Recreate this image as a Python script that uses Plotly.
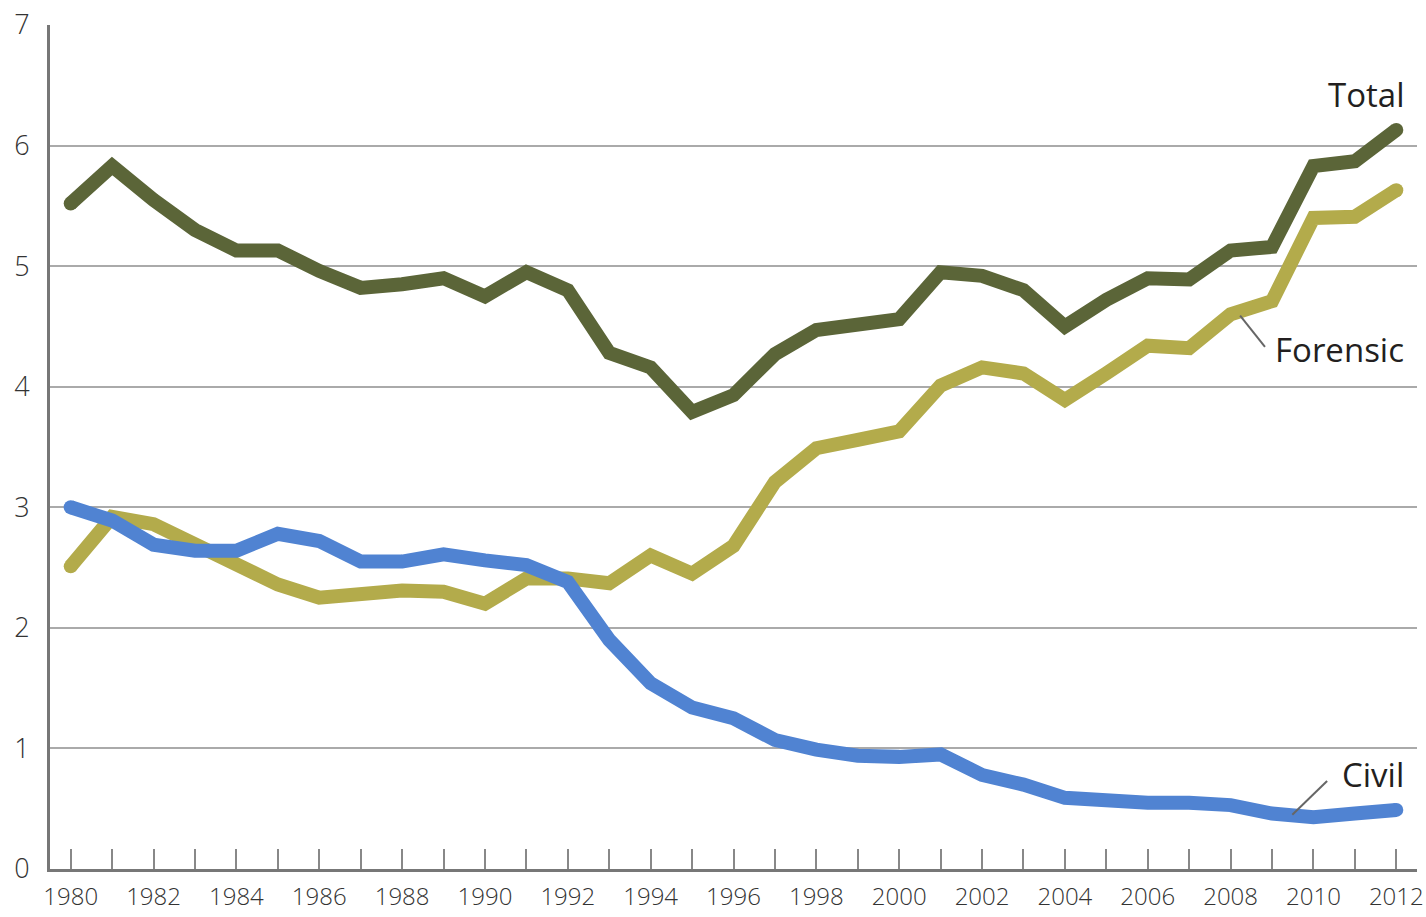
import plotly.graph_objects as go

years = list(range(1980, 2013))

total = [5.52, 5.83, 5.55, 5.30, 5.13, 5.13, 4.96, 4.82, 4.85, 4.90,
         4.75, 4.95, 4.80, 4.28, 4.16, 3.79, 3.93, 4.27, 4.47, 4.51,
         4.56, 4.95, 4.92, 4.80, 4.50, 4.72, 4.90, 4.89, 5.13, 5.16,
         5.83, 5.87, 6.13]

forensic = [2.51, 2.92, 2.86, 2.69, 2.50, 2.36, 2.25, 2.27, 2.31, 2.30,
            2.20, 2.41, 2.41, 2.37, 2.60, 2.45, 2.68, 3.21, 3.49, 3.56,
            3.63, 4.01, 4.16, 4.11, 3.89, 4.11, 4.34, 4.32, 4.60, 4.71,
            5.40, 5.41, 5.63]

civil = [3.00, 2.89, 2.69, 2.64, 2.64, 2.78, 2.72, 2.55, 2.55, 2.61,
         2.56, 2.52, 2.38, 1.90, 1.54, 1.34, 1.25, 1.07, 0.99, 0.94,
         0.93, 0.95, 0.78, 0.70, 0.59, 0.56, 0.55, 0.55, 0.53, 0.46,
         0.43, 0.46, 0.49]

x_labels = list(range(1980, 2013, 2))
y_ticks = list(range(0, 8))

series = [
    ("Total", total, "#5b6538"),
    ("Forensic", forensic, "#b3ab4b"),
    ("Civil", civil, "#5083d2"),
]

LW = 14
fig = go.Figure()
for name, vals, color in series:
    fig.add_trace(go.Scatter(
        x=years, y=vals, name=name, mode="lines",
        line=dict(color=color, width=LW),
        hoverinfo="x+y+name",
    ))
    # round ends drawn as solid dots on the first and last points
    fig.add_trace(go.Scatter(
        x=[years[0], years[-1]], y=[vals[0], vals[-1]], mode="markers",
        marker=dict(size=LW, color=color, opacity=1, line=dict(width=0)),
        hoverinfo="skip", showlegend=False,
    ))

label_font = dict(family="Open Sans, Lato, sans-serif", size=33, color="#231f20")
fig.add_annotation(x=2012.24, y=6.42, text="Total", showarrow=False,
                   xanchor="right", yanchor="middle", font=label_font)
fig.add_annotation(x=2012.24, y=4.31, text="Forensic", showarrow=False,
                   xanchor="right", yanchor="middle", font=label_font)
fig.add_annotation(x=2012.24, y=0.78, text="Civil", showarrow=False,
                   xanchor="right", yanchor="middle", font=label_font)

# leader lines from labels to their series
fig.add_shape(type="line", x0=2008.23, y0=4.59, x1=2008.83, y1=4.33,
              line=dict(color="#666666", width=2))
fig.add_shape(type="line", x0=2009.49, y0=0.45, x1=2010.33, y1=0.73,
              line=dict(color="#666666", width=2))

tick_font = dict(family="Open Sans, Lato, sans-serif", size=24, color="#333333",
                 weight=300)

fig.update_layout(
    width=1426, height=917,
    margin=dict(l=50, r=9, t=25, b=48),
    paper_bgcolor="white", plot_bgcolor="white",
    showlegend=False,
    xaxis=dict(
        range=[1979.5, 2012.5],
        tickvals=x_labels, ticktext=[str(v) for v in x_labels],
        ticks="inside", ticklen=20, tickwidth=1.5, tickcolor="#888888",
        minor=dict(ticks="inside", ticklen=20, tickwidth=1.5, tickcolor="#888888",
                   dtick=1, tick0=1980, showgrid=False),
        showgrid=False, zeroline=False,
        showline=True, linecolor="#777777", linewidth=3,
        tickfont=tick_font, ticklabelstandoff=4, automargin=False,
    ),
    yaxis=dict(
        range=[0, 7], tickvals=y_ticks,
        showgrid=True, gridcolor="#aaaaaa", gridwidth=1.5,
        zeroline=False, ticks="",
        showline=True, linecolor="#777777", linewidth=3,
        tickfont=dict(tick_font, size=27), ticklabelstandoff=12, automargin=False,
    ),
)

fig.write_html("out.html")
